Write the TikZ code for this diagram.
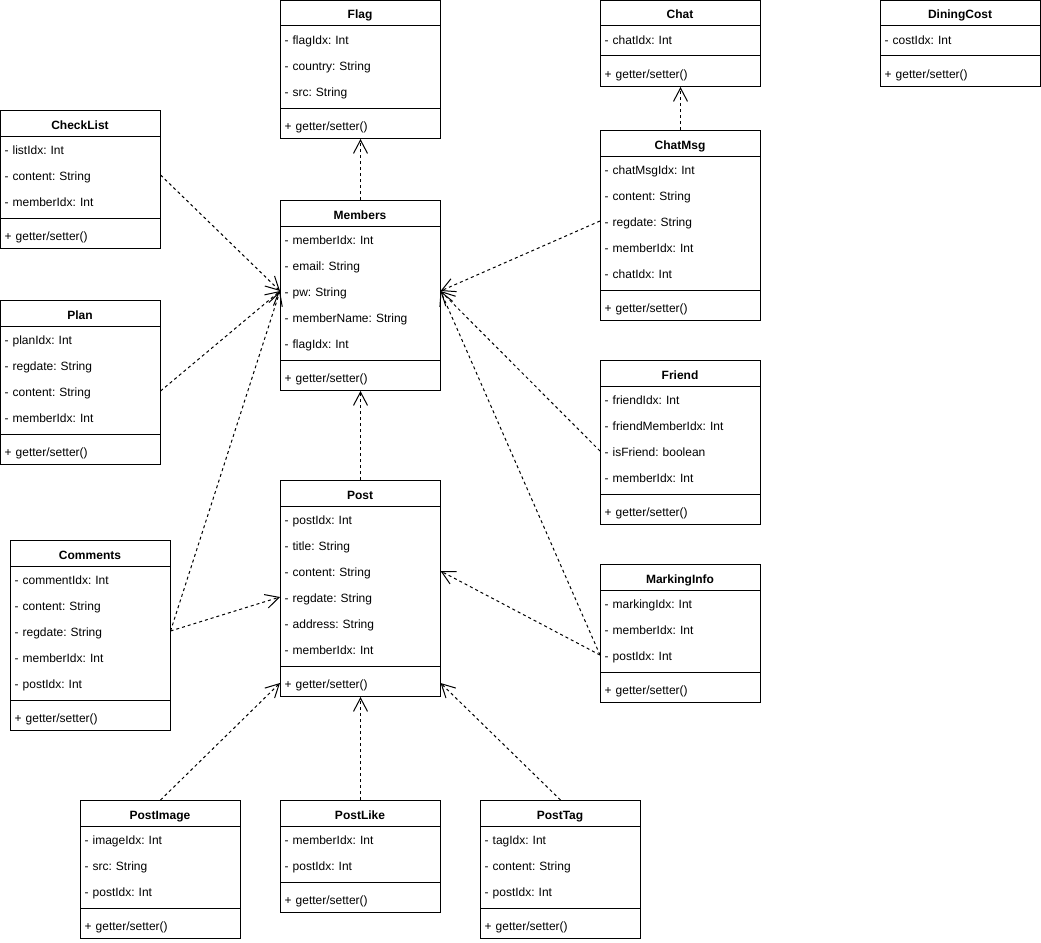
\documentclass[tikz,border=0pt]{standalone}
\usepackage{fontspec}
\setmainfont{Liberation Sans}
\usetikzlibrary{arrows.meta}
\frenchspacing
\tikzset{
  boxframe/.style={draw=black, line width=0.75pt, inner sep=0pt, minimum width=120pt, anchor=north west},
  hdr/.style={font=\fontsize{9pt}{10.8pt}\selectfont\bfseries, text height=9pt, text depth=0pt, inner sep=0pt},
  row/.style={font=\fontsize{9pt}{10.8pt}\selectfont\frenchspacing, anchor=west, inner xsep=3.3pt, inner ysep=0pt, text width=113.4pt, align=left, minimum height=19.5pt, text height=8.2pt, text depth=0pt},
  rule/.style={line width=0.75pt},
  dep/.style={line width=0.75pt, dash pattern=on 2.25pt off 2.25pt, -{Straight Barb[length=10pt,width=10.5pt]}},
}
\newcommand\umlclass[6]{%
  \node[boxframe, minimum height={(26*#4+60)*0.75pt}] (#1) at (#2,#3) {};
  \node[hdr] (#1-h) at (#2+80,#3+13) {#5};
  \draw[rule] (#2,#3+26) -- ++(160,0);
  \foreach \rowtext [count=\rownum] in {#6} {\node[row] (#1-\rownum) at (#2,#3+13+26*\rownum) {\rowtext};}
  \draw[rule] (#2,#3+26*#4+30) -- ++(160,0);
  \node[row] (#1-m) at (#2,#3+26*#4+47) {+ getter/setter()};
}
\begin{document}
\begin{tikzpicture}[x=0.75pt,y=-0.75pt]
\fill[white] (0,0) rectangle (1041,942);
\useasboundingbox (0,0) rectangle (1041,942);

\umlclass{flag}{280}{0}{3}{Flag}{- flagIdx: Int, - country: String, - src: String}
\umlclass{chat}{600}{0}{1}{Chat}{- chatIdx: Int}
\umlclass{diningcost}{880}{0}{1}{DiningCost}{- costIdx: Int}
\umlclass{checklist}{0}{110}{3}{CheckList}{- listIdx: Int, - content: String, - memberIdx: Int}
\umlclass{members}{280}{200}{5}{Members}{- memberIdx: Int, - email: String, - pw: String, - memberName: String, - flagIdx: Int}
\umlclass{chatmsg}{600}{130}{5}{ChatMsg}{- chatMsgIdx: Int, - content: String, - regdate: String, - memberIdx: Int, - chatIdx: Int}
\umlclass{plan}{0}{300}{4}{Plan}{- planIdx: Int, - regdate: String, - content: String, - memberIdx: Int}
\umlclass{friend}{600}{360}{4}{Friend}{- friendIdx: Int, - friendMemberIdx: Int, - isFriend: boolean, - memberIdx: Int}
\umlclass{post}{280}{480}{6}{Post}{- postIdx: Int, - title: String, - content: String, - regdate: String, - address: String, - memberIdx: Int}
\umlclass{comments}{10}{540}{5}{Comments}{- commentIdx: Int, - content: String, - regdate: String, - memberIdx: Int, - postIdx: Int}
\umlclass{markinginfo}{600}{564}{3}{MarkingInfo}{- markingIdx: Int, - memberIdx: Int, - postIdx: Int}
\umlclass{postimage}{80}{800}{3}{PostImage}{- imageIdx: Int, - src: String, - postIdx: Int}
\umlclass{postlike}{280}{800}{2}{PostLike}{- memberIdx: Int, - postIdx: Int}
\umlclass{posttag}{480}{800}{3}{PostTag}{- tagIdx: Int, - content: String, - postIdx: Int}

\draw[dep] (members.north) -- (flag.south);
\draw[dep] (chatmsg.north) -- (chat.south);
\draw[dep] (checklist-2.east) -- (members-3.west);
\draw[dep] (plan-3.east) -- (members-3.west);
\draw[dep] (comments-3.east) -- (members-3.west);
\draw[dep] (comments-3.east) -- (post-4.west);
\draw[dep] (chatmsg-3.west) -- (members-3.east);
\draw[dep] (friend-3.west) -- (members-3.east);
\draw[dep] (markinginfo-3.west) -- (members-3.east);
\draw[dep] (markinginfo-3.west) -- (post-3.east);
\draw[dep] (post.north) -- (members.south);
\draw[dep] (postimage.north) -- (post-m.west);
\draw[dep] (postlike.north) -- (post.south);
\draw[dep] (posttag.north) -- (post-m.east);
\end{tikzpicture}
\end{document}
